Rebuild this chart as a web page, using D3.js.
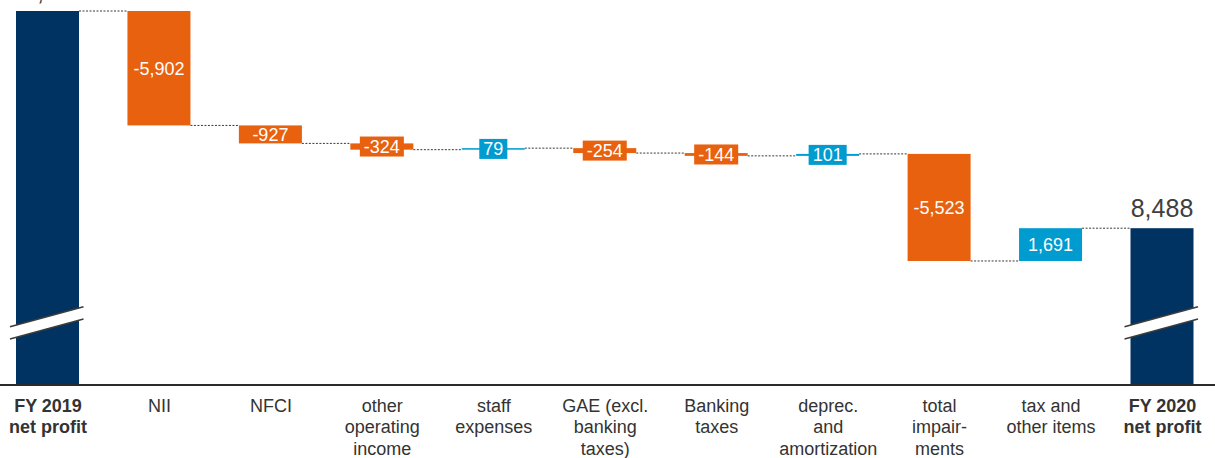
<!DOCTYPE html>
<html>
<head>
<meta charset="utf-8">
<script src="https://cdn.jsdelivr.net/npm/d3@7"></script>
<style>
  html, body { margin: 0; padding: 0; background: #ffffff; }
  svg { display: block; font-family: "Liberation Sans", Arial, sans-serif; }
</style>
</head>
<body>
<svg id="chart" width="1215" height="458"></svg>
<script>
// Net profit bridge, FY 2019 -> FY 2020
const categories = ["fy2019", "nii", "nfci", "ooi", "staff", "gae", "btax", "depr", "impair", "tax", "fy2020"];
const categoryLines = [
  ["FY 2019", "net profit"],
  ["NII"],
  ["NFCI"],
  ["other", "operating", "income"],
  ["staff", "expenses"],
  ["GAE (excl.", "banking", "taxes)"],
  ["Banking", "taxes"],
  ["deprec.", "and", "amortization"],
  ["total", "impair-", "ments"],
  ["tax and", "other items"],
  ["FY 2020", "net profit"]
];
const totalFlags = [true, false, false, false, false, false, false, false, false, false, true];
const startTotal = 19691;
const endTotal = 8488;
const deltas = [null, -5902, -927, -324, 79, -254, -144, 101, -5523, 1691, null];

const colors = { total: "#003361", down: "#E8610E", up: "#009BCF" };

const fmt = d3.formatLocale({ decimal: ".", thousands: ",", grouping: [3], currency: ["", ""], minus: "-" }).format(",");

// Build the bridge steps
let running = startTotal;
const steps = categories.map((c, i) => {
  if (totalFlags[i]) {
    const v = i === 0 ? startTotal : endTotal;
    running = v;
    return { key: c, i, total: true, value: v, from: v, to: v };
  }
  const from = running;
  const to = running + deltas[i];
  running = to;
  return { key: c, i, total: false, value: deltas[i], from, to };
});

const svg = d3.select("#chart");
const W = 1215;

// Scales (value axis is broken: totals are drawn down to the baseline)
const x = d3.scalePoint().domain(categories).range([47.5, 1162]);
const y = d3.scaleLinear().domain([400, 19691]).range([385, 11]);
const barW = 63;
const baseY = y(400);

// Connectors between consecutive bars
const conn = svg.append("g");
steps.slice(0, -1).forEach((s, k) => {
  const n = steps[k + 1];
  conn.append("line")
    .attr("x1", x(s.key) + barW / 2)
    .attr("x2", x(n.key) - barW / 2)
    .attr("y1", y(s.to)).attr("y2", y(s.to))
    .attr("stroke", "#3a3a3a")
    .attr("stroke-width", 1)
    .attr("stroke-dasharray", "2,1.5");
});

// Bars
const bars = svg.append("g");
steps.forEach(s => {
  const cx = x(s.key);
  if (s.total) {
    bars.append("rect")
      .attr("x", cx - barW / 2).attr("width", barW)
      .attr("y", y(s.value)).attr("height", baseY - y(s.value))
      .attr("fill", colors.total);
  } else {
    const top = y(Math.max(s.from, s.to));
    const bot = y(Math.min(s.from, s.to));
    bars.append("rect")
      .attr("x", cx - barW / 2).attr("width", barW)
      .attr("y", top).attr("height", Math.max(bot - top, 1.5))
      .attr("fill", s.value < 0 ? colors.down : colors.up);
  }
});

// Axis break marks on the total bars
const brk = svg.append("g");
steps.filter(s => s.total).forEach(s => {
  const cx = x(s.key);
  const x0 = cx - 37.5, x1 = cx + 36;
  const yA0 = y(400) - 58.3, yA1 = y(400) - 78.3, gap = 12.3;
  brk.append("polygon")
    .attr("points", [[x0, yA0], [x1, yA1], [x1, yA1 + gap], [x0, yA0 + gap]].map(p => p.join(",")).join(" "))
    .attr("fill", "#ffffff");
  [0, gap].forEach(off => {
    brk.append("line")
      .attr("x1", x0).attr("y1", yA0 + off)
      .attr("x2", x1).attr("y2", yA1 + off)
      .attr("stroke", "#3c3c3c").attr("stroke-width", 1.6);
  });
});

// Value labels
const labels = svg.append("g");
steps.forEach(s => {
  const cx = x(s.key);
  if (s.total) {
    labels.append("text")
      .attr("x", cx).attr("y", y(s.value) - 11)
      .attr("text-anchor", "middle")
      .attr("font-size", 25)
      .attr("fill", "#404040")
      .text(fmt(s.value));
    return;
  }
  const top = y(Math.max(s.from, s.to));
  const bot = y(Math.min(s.from, s.to));
  const cy = (top + bot) / 2;
  const txt = fmt(s.value);
  const t = labels.append("text")
    .attr("x", cx).attr("y", cy).attr("dy", "0.35em")
    .attr("text-anchor", "middle")
    .attr("font-size", 18)
    .attr("fill", "#ffffff")
    .text(txt);
  if (bot - top < 17) {
    const tw = t.node().getComputedTextLength();
    labels.insert("rect", () => t.node())
      .attr("x", cx - tw / 2 - 4).attr("width", tw + 8)
      .attr("y", cy - 10).attr("height", 20)
      .attr("fill", s.value < 0 ? colors.down : colors.up);
  }
});

// Category axis
const axis = svg.append("g")
  .attr("transform", `translate(0,${baseY})`)
  .call(d3.axisBottom(x).tickSize(0).tickFormat(() => ""));
axis.select(".domain").remove();
axis.selectAll(".tick text").remove();
axis.selectAll(".tick").each(function (d) {
  const i = categories.indexOf(d);
  const t = d3.select(this).append("text")
    .attr("text-anchor", "middle")
    .attr("fill", "#333333")
    .attr("font-size", 18)
    .attr("font-weight", totalFlags[i] ? "bold" : "normal")
    .attr("font-family", "Liberation Sans, Arial, sans-serif");
  categoryLines[i].forEach((line, j) => {
    t.append("tspan").attr("x", 0).attr("y", 26.5 + j * 21.5).text(line);
  });
});

svg.append("line")
  .attr("x1", 0).attr("x2", W)
  .attr("y1", baseY).attr("y2", baseY)
  .attr("stroke", "#2b2b2b").attr("stroke-width", 2);
</script>
</body>
</html>
